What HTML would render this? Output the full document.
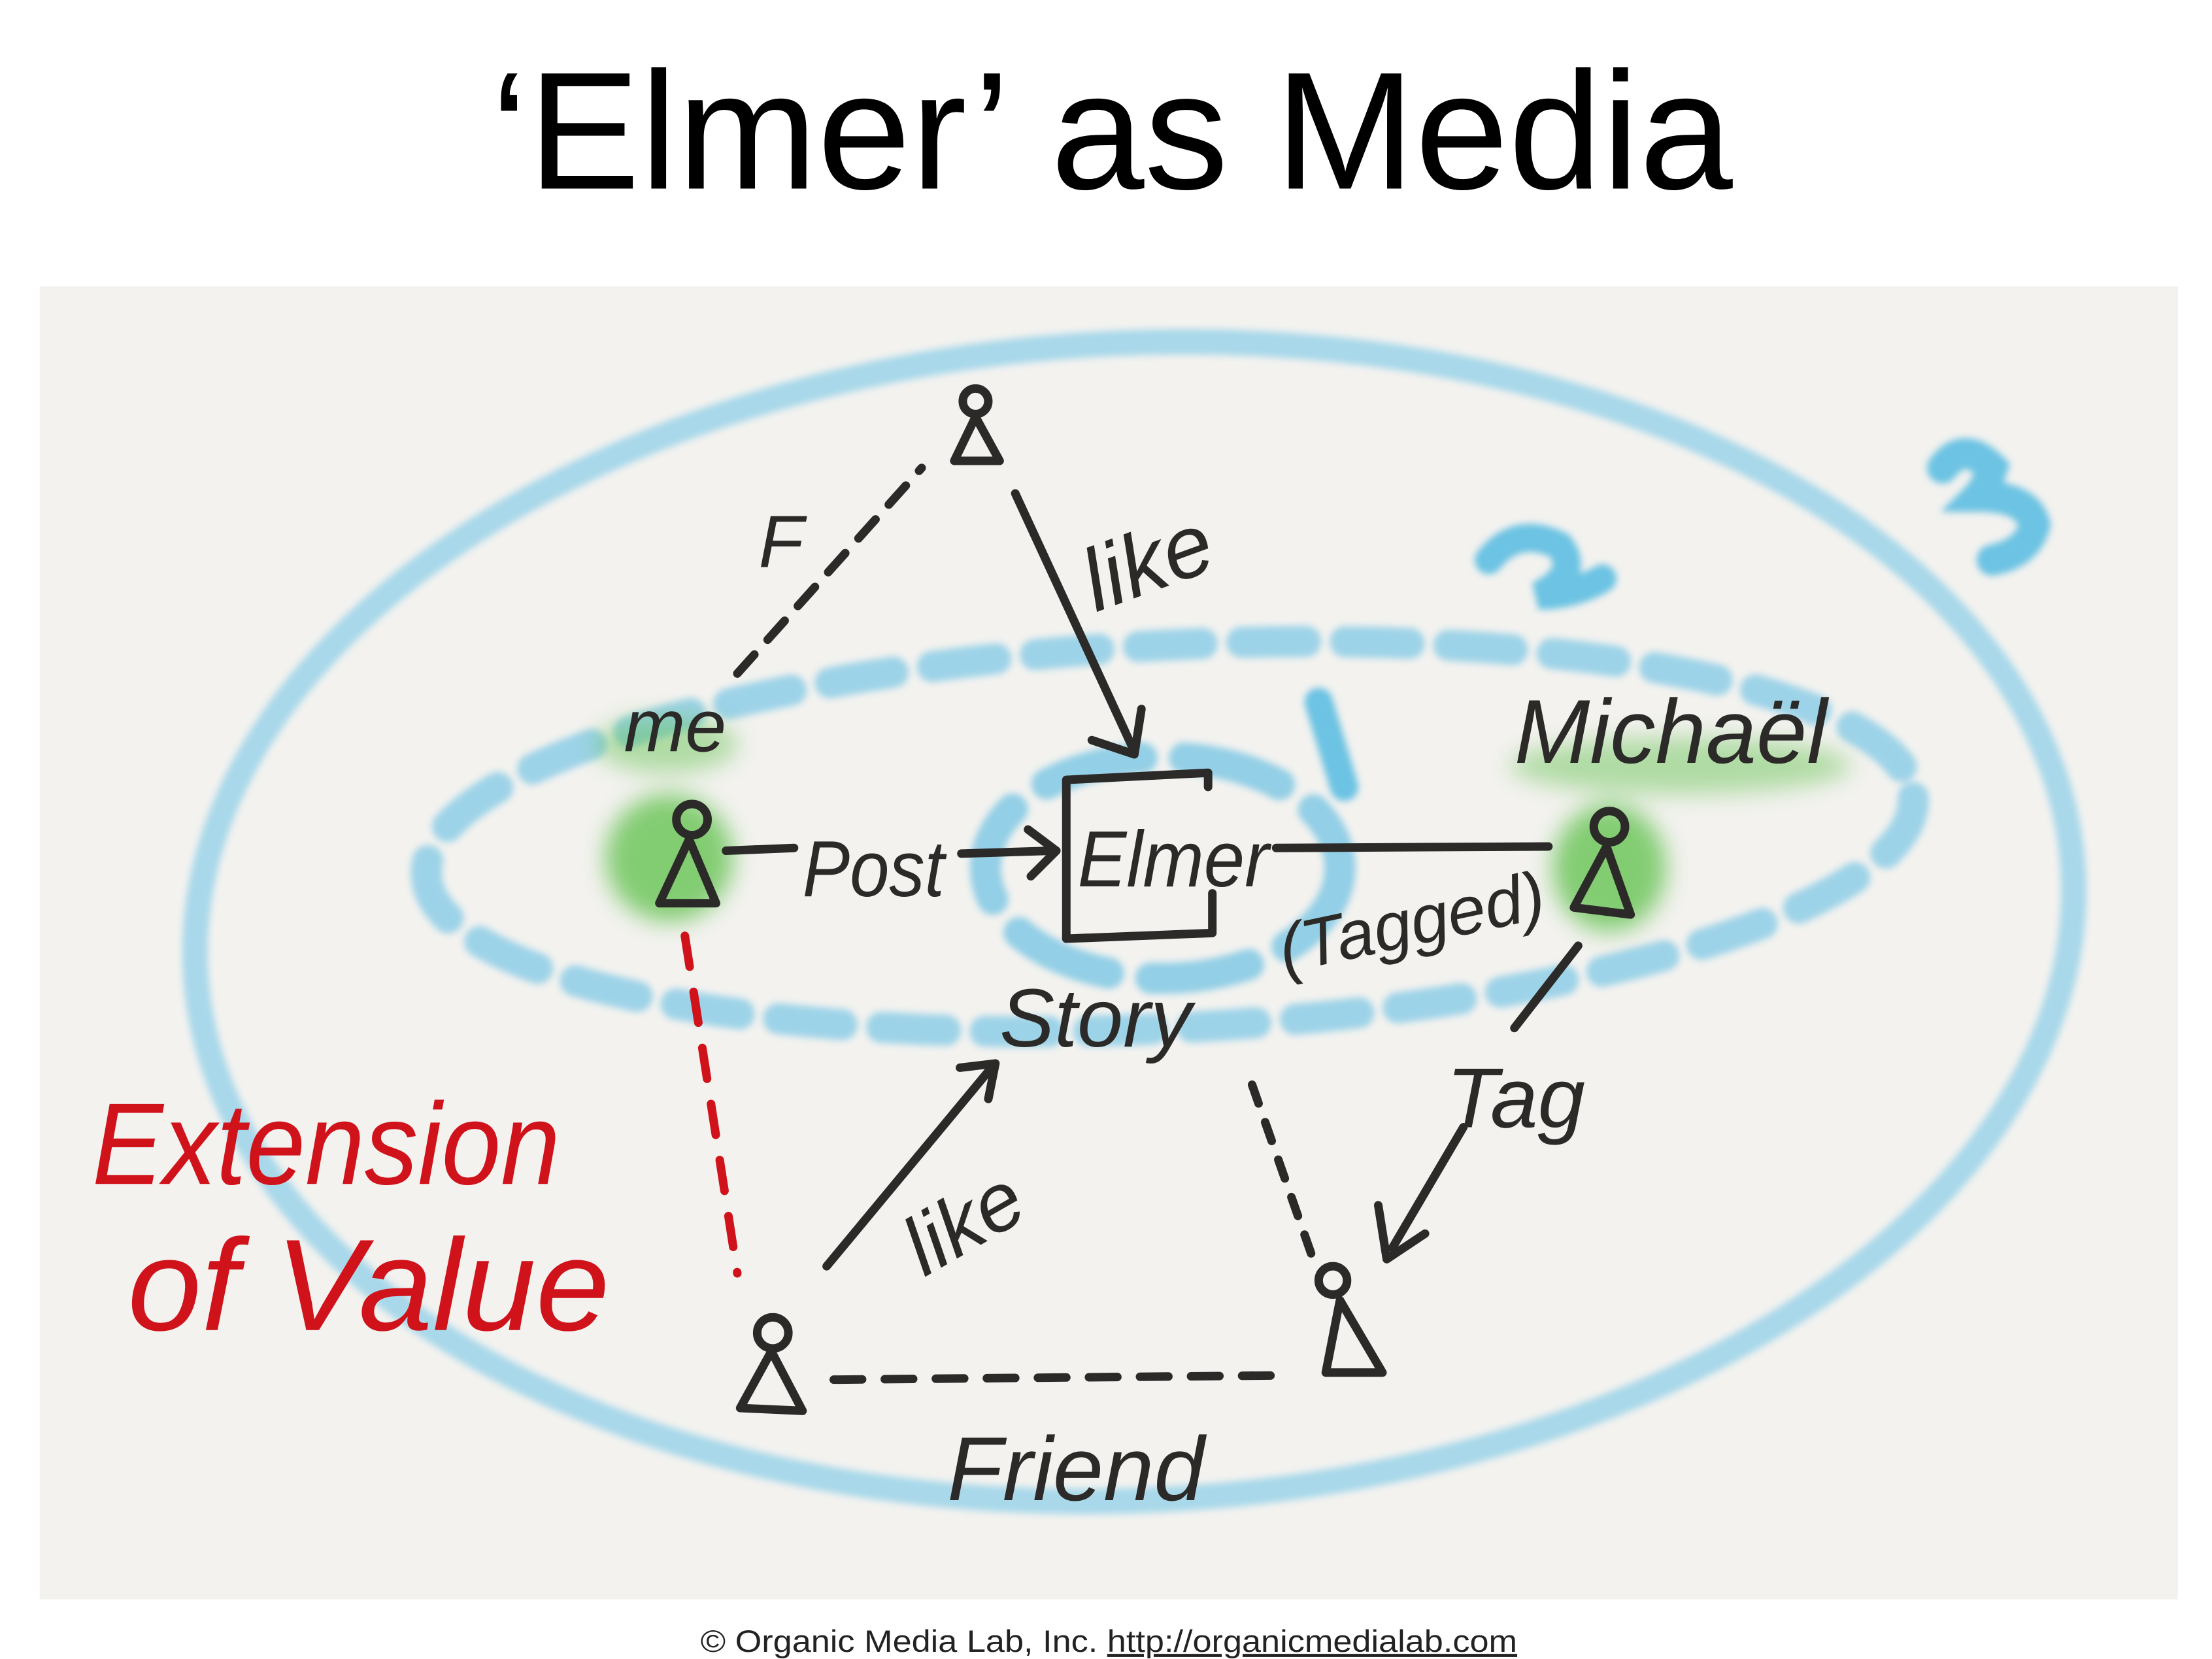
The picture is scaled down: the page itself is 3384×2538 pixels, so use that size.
<!DOCTYPE html>
<html><head><meta charset="utf-8">
<style>
html,body{margin:0;padding:0;background:#fff;}
svg{display:block;}
</style></head>
<body>
<svg width="3384" height="2538" viewBox="0 0 1560 1170" xmlns="http://www.w3.org/2000/svg">
<defs>
<filter id="soft" x="-10%" y="-10%" width="120%" height="120%"><feGaussianBlur stdDeviation="2.5"/></filter>
<filter id="glow" x="-50%" y="-50%" width="200%" height="200%"><feGaussianBlur stdDeviation="8"/></filter>
</defs>
<rect width="1560" height="1170" fill="#fff"/>
<text x="784" y="133" font-family="Liberation Sans, sans-serif" font-size="118" text-anchor="middle" textLength="876" lengthAdjust="spacingAndGlyphs" fill="#000">‘Elmer’ as Media</text>
<rect x="28" y="202" width="1508" height="926" fill="#f3f2ef"/>

<g filter="url(#soft)" fill="none" stroke-linecap="round">
<ellipse cx="800" cy="650" rx="663" ry="408" stroke="#a8d8ea" stroke-width="18" transform="rotate(-3 800 650)"/>
<ellipse cx="825" cy="590" rx="525" ry="135" stroke="#9dd3e8" stroke-width="22" stroke-dasharray="45 28" transform="rotate(-3 825 590)"/>
<ellipse cx="820" cy="612" rx="125" ry="78" stroke="#93cfe6" stroke-width="22" stroke-dasharray="70 30"/>
<path d="M930 495 L948 555" stroke="#6cc3e3" stroke-width="20"/>
<path d="M1050 395 Q1070 370 1100 385 Q1115 405 1085 420 Q1110 420 1130 408" stroke="#6cc3e3" stroke-width="20"/>
<path d="M1370 330 Q1385 310 1405 330 Q1400 345 1395 350 Q1430 350 1435 370 Q1430 390 1405 395" stroke="#6cc3e3" stroke-width="22"/>
</g>

<g filter="url(#glow)" fill="#5dc049" opacity="0.75">
<ellipse cx="470" cy="525" rx="50" ry="20" opacity="0.6"/>
<ellipse cx="472" cy="605" rx="45" ry="45"/>
<ellipse cx="1185" cy="540" rx="120" ry="20" opacity="0.6"/>
<ellipse cx="1135" cy="612" rx="40" ry="45"/>
</g>

<g fill="none" stroke="#2b2a28" stroke-width="6" stroke-linecap="round" stroke-linejoin="round">
<g><circle cx="688" cy="283" r="9"/><path d="M688 294 L673 325 L705 325 Z"/></g>
<g><circle cx="488" cy="578" r="11"/><path d="M486 592 L465 637 L505 637 Z"/></g>
<g><circle cx="1135" cy="583" r="11"/><path d="M1133 597 L1110 640 L1150 645 Z"/></g>
<g><circle cx="545" cy="940" r="11"/><path d="M544 953 L522 993 L566 995 Z"/></g>
<g><circle cx="940" cy="903" r="10"/><path d="M945 917 L935 968 L975 968 Z"/></g>
<path d="M520 475 L650 330" stroke-dasharray="18 14"/>
<path d="M716 348 L800 530"/><path d="M770 522 L800 532 L805 500"/>
<path d="M512 600 L560 598"/>
<path d="M678 602 L742 600"/><path d="M725 585 L745 600 L727 618"/>
<path d="M852 555 L852 545 L752 550 L752 662 L855 658 L855 630"/>
<path d="M900 598 L1092 597"/>
<path d="M1113 667 L1068 725"/>
<path d="M1032 795 L982 880"/><path d="M972 850 L978 888 L1005 870"/>
<path d="M583 893 L700 752"/><path d="M677 753 L702 750 L697 775"/>
<path d="M883 765 L925 885" stroke-dasharray="14 14"/>
<path d="M588 973 L905 970" stroke-dasharray="20 16"/>
</g>
<path d="M483 660 L520 898" fill="none" stroke="#d0121b" stroke-width="6" stroke-linecap="round" stroke-dasharray="22 18"/>

<g font-family="Liberation Sans, sans-serif" font-style="italic" fill="#2b2a28">
<text x="535" y="400" font-size="52">F</text>
<text x="760" y="420" font-size="62" transform="rotate(-20 800 390)">like</text>
<text x="440" y="530" font-size="52">me</text>
<text x="566" y="632" font-size="56" textLength="100" lengthAdjust="spacingAndGlyphs">Post</text>
<text x="760" y="625" font-size="56" textLength="135" lengthAdjust="spacingAndGlyphs">Elmer</text>
<text x="900" y="670" font-size="48" transform="rotate(-12 980 650)">(Tagged)</text>
<text x="1068" y="538" font-size="64">Michaël</text>
<text x="705" y="738" font-size="58">Story</text>
<text x="1020" y="795" font-size="60">Tag</text>
<text x="630" y="880" font-size="58" transform="rotate(-30 680 850)">like</text>
<text x="668" y="1058" font-size="64">Friend</text>
</g>
<g font-family="Liberation Sans, sans-serif" font-style="italic" fill="#d0121b">
<text x="65" y="835" font-size="82" textLength="330" lengthAdjust="spacingAndGlyphs">Extension</text>
<text x="90" y="938" font-size="92" textLength="340" lengthAdjust="spacingAndGlyphs">of Value</text>
</g>

<text x="782" y="1165" font-family="Liberation Sans, sans-serif" font-size="22" text-anchor="middle" fill="#222" textLength="576" lengthAdjust="spacingAndGlyphs">© Organic Media Lab, Inc. <tspan text-decoration="underline">http://organicmedialab.com</tspan></text>
</svg>
</body></html>
